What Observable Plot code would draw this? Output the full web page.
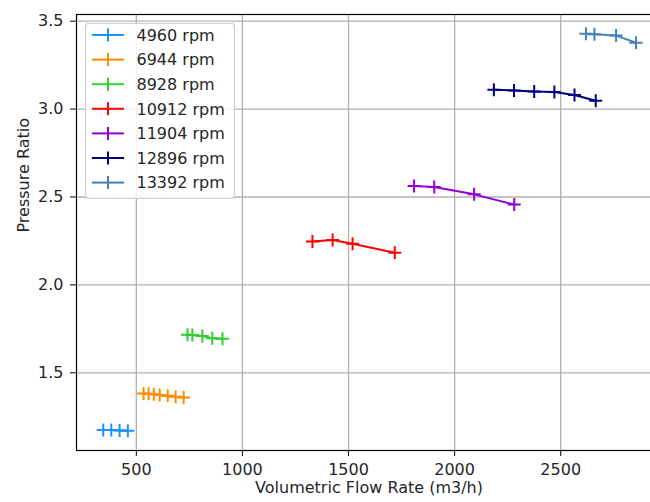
<!DOCTYPE html>
<html>
<head>
<meta charset="utf-8">
<script src="https://cdn.jsdelivr.net/npm/d3@7"></script>
<script src="https://cdn.jsdelivr.net/npm/@observablehq/plot@0.6"></script>
<style>
  html, body { margin: 0; padding: 0; background: white; overflow: hidden; }
  #wrap { position: relative; width: 650px; height: 502px; overflow: hidden; background: white; }
  #wrap > svg.plot-chart, #wrap > svg:first-child { max-width: none !important; width: 661px; height: 502px; display: block; }
  #legend { position: absolute; left: 0; top: 0; }
</style>
</head>
<body>
<div id="wrap"></div>
<script>
// ---- data ----
const series = ["4960 rpm", "6944 rpm", "8928 rpm", "10912 rpm", "11904 rpm", "12896 rpm", "13392 rpm"];
const colors = ["#1e90ff", "#ff8c00", "#32cd32", "#ff0000", "#9400d3", "#000080", "#4682b4"];

const flow4960  = [344, 382, 421, 460];
const pr4960    = [1.175, 1.174, 1.172, 1.170];
const flow6944  = [534, 558, 582, 610, 648, 685, 723];
const pr6944    = [1.382, 1.381, 1.378, 1.374, 1.369, 1.364, 1.359];
const flow8928  = [741, 764, 811, 858, 906];
const pr8928    = [1.716, 1.715, 1.709, 1.697, 1.694];
const flow10912 = [1330, 1425, 1519, 1718];
const pr10912   = [2.247, 2.255, 2.234, 2.183];
const flow11904 = [1809, 1904, 2092, 2281];
const pr11904   = [2.562, 2.557, 2.515, 2.457];
const flow12896 = [2185, 2280, 2375, 2470, 2565, 2665];
const pr12896   = [3.110, 3.106, 3.100, 3.097, 3.080, 3.047];
const flow13392 = [2619, 2659, 2761, 2855];
const pr13392   = [3.428, 3.425, 3.418, 3.377];

const xTicks = [500, 1000, 1500, 2000, 2500];
const yTicks = [1.5, 2.0, 2.5, 3.0, 3.5];
const xLabel = "Volumetric Flow Rate (m3/h)";
const yLabel = "Pressure Ratio";

const flows = [flow4960, flow6944, flow8928, flow10912, flow11904, flow12896, flow13392];
const prs   = [pr4960, pr6944, pr8928, pr10912, pr11904, pr12896, pr13392];
const data = series.flatMap((s, i) => flows[i].map((f, j) => ({series: s, flow: f, pr: prs[i][j]})));

// plus-shaped stroke symbol
const plusSymbol = {
  draw(ctx, size) {
    const r = Math.sqrt(size / Math.PI);
    ctx.moveTo(-r, 0); ctx.lineTo(r, 0);
    ctx.moveTo(0, -r); ctx.lineTo(0, r);
  }
};

const FONT = "DejaVu Sans";
const TEXT = "#262626";

const chart = Plot.plot({
  width: 661,
  height: 502,
  marginLeft: 76,
  marginRight: 0,
  marginTop: 14,
  marginBottom: 52,
  style: {fontFamily: FONT, fontSize: "16px", color: TEXT, background: "white", maxWidth: "none"},
  x: {domain: [218, 2975]},
  y: {domain: [1.058, 3.538]},
  color: {domain: series, range: colors},
  marks: [
    Plot.gridX(xTicks, {stroke: "#b0b0b0", strokeOpacity: 1, strokeWidth: 1.3}),
    Plot.gridY(yTicks, {stroke: "#b0b0b0", strokeOpacity: 1, strokeWidth: 1.3}),
    Plot.line(data, {x: "flow", y: "pr", z: "series", stroke: "series", strokeWidth: 2}),
    Plot.dot(data, {x: "flow", y: "pr", stroke: "series", symbol: plusSymbol, r: 6.5, fill: "none", strokeWidth: 2}),
    Plot.frame({stroke: "#000", strokeWidth: 1.2}),
    Plot.axisX({ticks: xTicks, tickFormat: d3.format("d"), tickSize: 6, tickPadding: 7, fontSize: 16, label: null, stroke: "#000"}),
    Plot.axisY({ticks: yTicks, tickFormat: d3.format(".1f"), tickSize: 6, tickPadding: 7, fontSize: 16, label: null, stroke: "#000"}),
    Plot.text([xLabel], {frameAnchor: "bottom", dy: 42, dx: 0, fontSize: 16, fill: TEXT}),
    Plot.text([yLabel], {frameAnchor: "left", dx: -53, rotate: -90, fontSize: 16, fill: TEXT})
  ]
});

const wrap = document.getElementById("wrap");
chart.style.maxWidth = "none";
chart.style.width = "661px";
chart.style.height = "502px";
wrap.appendChild(chart);

// ---- legend ----
const lg = d3.select(wrap).append("svg")
  .attr("id", "legend")
  .attr("width", 650).attr("height", 502)
  .style("pointer-events", "none");

lg.append("rect")
  .attr("x", 85.5).attr("y", 23.5).attr("width", 149).attr("height", 175)
  .attr("rx", 3).attr("ry", 3)
  .attr("fill", "white").attr("fill-opacity", 0.85)
  .attr("stroke", "#d0d0d0").attr("stroke-width", 1.2);

series.forEach((s, i) => {
  const cy = 35 + i * 24.6;
  const g = lg.append("g");
  g.append("line").attr("x1", 92).attr("x2", 124).attr("y1", cy).attr("y2", cy)
    .attr("stroke", colors[i]).attr("stroke-width", 2);
  g.append("line").attr("x1", 108).attr("x2", 108).attr("y1", cy - 6.5).attr("y2", cy + 6.5)
    .attr("stroke", colors[i]).attr("stroke-width", 2);
  g.append("text").attr("x", 136.5).attr("y", cy).attr("dy", "0.36em")
    .attr("font-family", FONT).attr("font-size", 16).attr("fill", TEXT)
    .text(s);
});
</script>
</body>
</html>
